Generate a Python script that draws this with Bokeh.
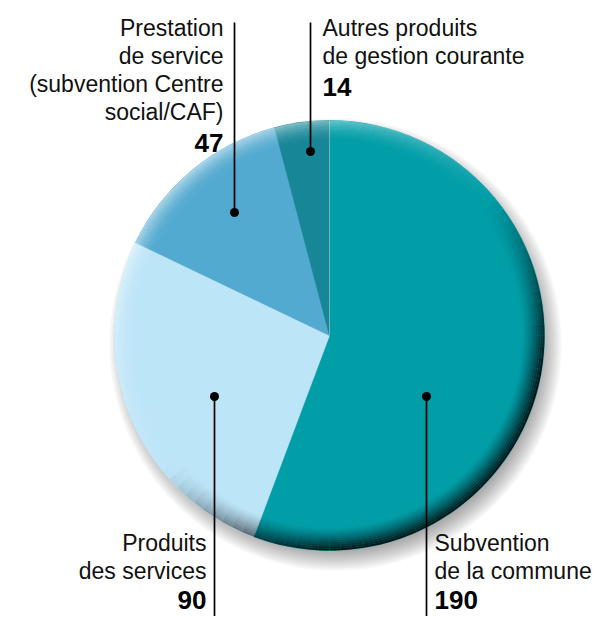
import numpy as np
from bokeh.plotting import figure
from bokeh.models import Range1d, ColumnDataSource
from bokeh.core.properties import value
from bokeh.embed import file_html
from bokeh.resources import INLINE

# ---- data ----
categories = ["Subvention de la commune", "Produits des services",
              "Prestation de service (subvention Centre social/CAF)",
              "Autres produits de gestion courante"]
label_lines = [["Subvention", "de la commune"],
               ["Produits", "des services"],
               ["Prestation", "de service", "(subvention Centre", "social/CAF)"],
               ["Autres produits", "de gestion courante"]]
amounts = [190, 90, 47, 14]
colors = ["#029ea8", "#bde5f8", "#53aad0", "#178797"]

# ---- layout (picture pixel coordinates) ----
W, H = 592, 616
def Y(py):
    return 632 - py

TXT_SHIFT = 8  # compensate baseline placement of text glyphs
cx, cy, R = 329, Y(335), 215

p = figure(width=W, height=H, x_range=Range1d(0, 592), y_range=Range1d(16, 632),
           output_backend="svg", toolbar_location=None, min_border=0)
p.axis.visible = False
p.grid.visible = False
p.outline_line_color = None
p.background_fill_color = "white"
p.border_fill_color = "white"

# drop shadow
sh_r = np.arange(200, 228, 2)
p.circle(x=[cx + 6] * len(sh_r), y=[cy - 9] * len(sh_r), radius=sh_r,
         fill_color="black", fill_alpha=0.035, line_color=None)

# pie slices, clockwise from 12 o'clock
total = float(sum(amounts))
ends = np.pi / 2 - 2 * np.pi * np.cumsum(amounts) / total
starts = np.concatenate([[np.pi / 2], ends[:-1]])
src = ColumnDataSource(dict(start=ends, end=starts, color=colors, name=categories))
p.wedge(x=cx, y=cy, radius=R, start_angle="start", end_angle="end",
        fill_color="color", line_color="color", line_width=0.6, source=src)

# rim shading (light from top-left)
nseg, nring = 120, 11
r_edges = np.linspace(192, R, nring + 1)
th = np.linspace(0, 2 * np.pi, nseg + 1)
ri, ro, sa, ea, fc, fa = [], [], [], [], [], []
light = np.deg2rad(130)
for i in range(nring):
    t = (i + 0.5) / nring
    for j in range(nseg):
        mid = 0.5 * (th[j] + th[j + 1])
        d = np.cos(mid - light)
        if d < 0:
            a = min(1.0, -d * 1.3) * t ** 1.3 * 0.92
            c = "black"
        else:
            a = d * t ** 2 * 0.55
            c = "white"
        ri.append(r_edges[i]); ro.append(r_edges[i + 1])
        sa.append(th[j]); ea.append(th[j + 1]); fc.append(c); fa.append(a)
rim = ColumnDataSource(dict(ri=ri, ro=ro, sa=sa, ea=ea, fc=fc, fa=fa))
p.annular_wedge(x=cx, y=cy, inner_radius="ri", outer_radius="ro",
                start_angle="sa", end_angle="ea", fill_color="fc", fill_alpha="fa",
                line_color=None, source=rim)

# faint highlight on the 12 o'clock boundary
p.segment(x0=[cx], y0=[cy], x1=[cx + R * np.cos(starts[0])], y1=[cy + R * np.sin(starts[0])],
          line_color="white", line_alpha=0.35, line_width=1)

# leader lines and dots: (dot_x, dot_y, line_end_y)
leaders = [(426, 396, 640), (214, 396, 640), (234, 212, 22), (310, 151, 22)]
for (lx, ly, le) in leaders:
    p.segment(x0=[lx], y0=[Y(ly)], x1=[lx], y1=[Y(le)], line_color="black", line_width=1.7)
    p.scatter(x=[lx], y=[Y(ly)], size=9, marker="circle", fill_color="black", line_color=None)

# labels: (x, first baseline, align, line step, value step)
label_pos = [(434, 550, "left", 28, 29), (206, 550, "right", 28, 29),
             (223, 35, "right", 28, 31), (322, 35, "left", 28, 31)]
for lines, amt, (tx, ty, al, step, vstep) in zip(label_lines, amounts, label_pos):
    ys = [Y(ty - TXT_SHIFT + k * step) for k in range(len(lines))]
    p.text(x=[tx] * len(lines), y=ys, text=lines, text_font=value("Liberation Sans"),
           text_font_size="23px", text_align=al, text_baseline="alphabetic",
           text_color="#111111")
    vy = ty - TXT_SHIFT + (len(lines) - 1) * step + vstep
    p.text(x=[tx], y=[Y(vy)], text=[str(amt)], text_font=value("Liberation Sans"),
           text_font_size="26px", text_font_style="bold", text_align=al,
           text_baseline="alphabetic", text_color="#000000")

open("out.html", "w").write(file_html(p, INLINE))
